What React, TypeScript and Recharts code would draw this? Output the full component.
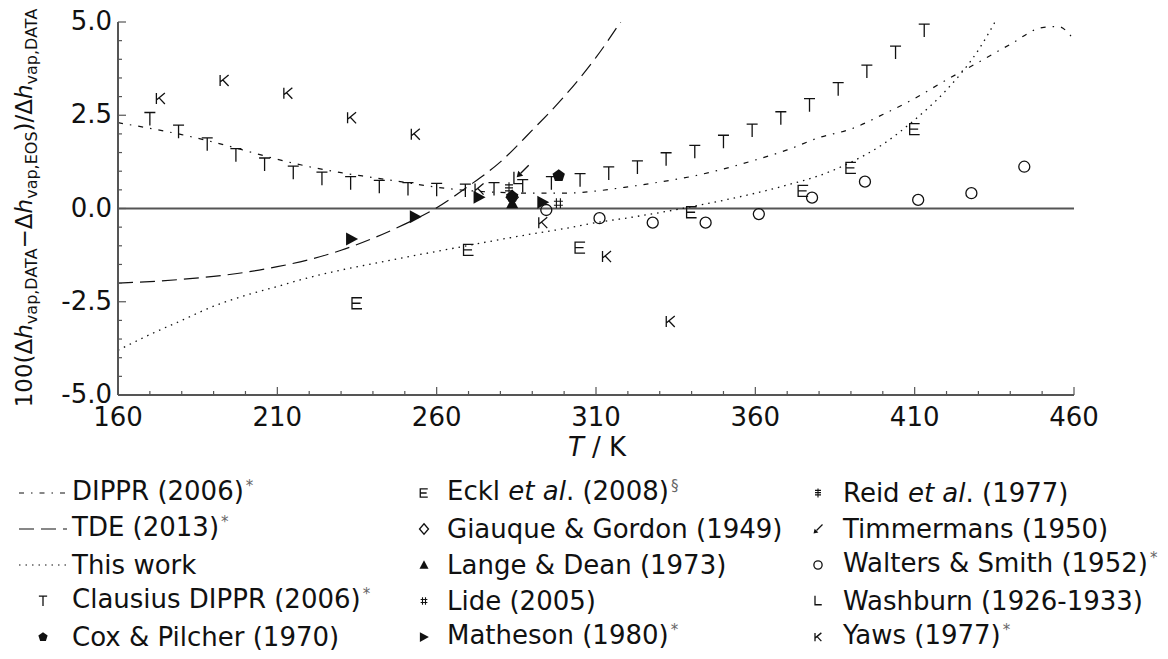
import React from 'react';
import { ComposedChart, Line, Scatter, XAxis, YAxis, ReferenceLine } from 'recharts';

const FONT = "'DejaVu Sans', 'Noto Sans', sans-serif";
const INK = '#111';
const FRAME = '#555';

// axis ticks (minor every 10 K / 0.5 %)
const xTicks = [160, 170, 180, 190, 200, 210, 220, 230, 240, 250, 260, 270, 280, 290, 300, 310, 320, 330, 340, 350, 360, 370, 380, 390, 400, 410, 420, 430, 440, 450, 460];
const xMajor = [160, 210, 260, 310, 360, 410, 460];
const yTicks = [-5, -4.5, -4, -3.5, -3, -2.5, -2, -1.5, -1, -0.5, 0, 0.5, 1, 1.5, 2, 2.5, 3, 3.5, 4, 4.5, 5];
const yMajor = [-5, -2.5, 0, 2.5, 5];

// correlations
const dipprT = [160, 170, 180, 190, 200, 210, 220, 230, 240, 250, 260, 270, 280, 290, 300, 310, 320, 330, 340, 350, 360, 370, 380, 390, 400, 410, 420, 430, 440, 450, 455, 460];
const dipprDev = [2.3, 2.15, 1.98, 1.78, 1.55, 1.32, 1.12, 0.96, 0.83, 0.7, 0.57, 0.48, 0.43, 0.41, 0.41, 0.47, 0.58, 0.71, 0.86, 1.06, 1.3, 1.57, 1.9, 2.13, 2.52, 2.95, 3.45, 3.92, 4.4, 4.85, 4.88, 4.52];

const tdeT = [160, 170, 180, 190, 200, 210, 220, 230, 240, 250, 260, 270, 280, 290, 300, 310, 320];
const tdeDev = [-2.0, -1.96, -1.9, -1.82, -1.71, -1.56, -1.37, -1.12, -0.8, -0.42, 0.02, 0.6, 1.25, 2.1, 3.0, 4.05, 5.3];

const thisWorkT = [160, 170, 180, 190, 200, 210, 220, 230, 240, 250, 260, 270, 280, 290, 300, 310, 320, 330, 340, 350, 360, 370, 380, 390, 400, 410, 420, 430, 435, 440];
const thisWorkDev = [-3.8, -3.38, -3.0, -2.62, -2.33, -2.09, -1.85, -1.65, -1.48, -1.31, -1.15, -0.99, -0.83, -0.68, -0.54, -0.38, -0.25, -0.11, 0.05, 0.22, 0.41, 0.63, 0.88, 1.24, 1.72, 2.38, 3.18, 4.25, 4.97, 5.8];

// experimental / derived points
const clausiusT = [170, 179, 188, 197, 206, 215, 224, 233, 242, 251, 260, 269, 278, 287, 296, 305, 314, 323, 332, 341, 350, 359, 368, 377, 386, 395, 404, 413];
const clausiusDev = [2.4, 2.06, 1.72, 1.43, 1.18, 0.96, 0.8, 0.68, 0.58, 0.52, 0.5, 0.48, 0.52, 0.6, 0.68, 0.76, 0.94, 1.1, 1.32, 1.52, 1.79, 2.09, 2.42, 2.77, 3.2, 3.67, 4.18, 4.77];

const yawsT = [173.3, 193.3, 213.3, 233.3, 253.3, 273.3, 293.3, 313.3, 333.3];
const yawsDev = [2.95, 3.43, 3.09, 2.43, 1.99, 0.52, -0.38, -1.29, -3.03];

const ecklT = [235, 270, 305, 340, 375, 390, 410];
const ecklDev = [-2.54, -1.11, -1.05, -0.1, 0.47, 1.09, 2.13];

const waltersT = [294.4, 311.1, 327.8, 344.4, 361.1, 377.8, 394.4, 411.1, 427.8, 444.4];
const waltersDev = [-0.04, -0.26, -0.38, -0.38, -0.15, 0.29, 0.72, 0.23, 0.41, 1.12];

const mathesonT = [233.3, 253.3, 273.3, 293.3];
const mathesonDev = [-0.82, -0.22, 0.3, 0.17];

const coxT = [283.7, 298.3];
const coxDev = [0.32, 0.88];
const giauqueT = [283.7];
const giauqueDev = [0.3];
const langeT = [283.7];
const langeDev = [0.14];
const lideT = [298.2];
const lideDev = [0.14];
const reidT = [282.7];
const reidDev = [0.54];
const timmermansT = [287];
const timmermansDev = [1.0];
const washburnT = [285.5];
const washburnDev = [0.8];

const pts = (ts: number[], vs: number[]) => ts.map((t, i) => ({ t, v: vs[i] }));

// marker glyphs
function Marker({ kind, cx, cy, s = 1 }: { kind: string; cx: number; cy: number; s?: number }) {
  const k = (n: number) => n * s;
  const st = { stroke: INK, strokeWidth: 1.3, fill: 'none' };
  switch (kind) {
    case 'T':
      return <path d={`M${cx - k(5.5)},${cy - k(6.5)}H${cx + k(5.5)}M${cx},${cy - k(6.5)}V${cy + k(6.5)}`} {...st} />;
    case 'K':
      return <path d={`M${cx - k(4)},${cy - k(5.5)}V${cy + k(5.5)}M${cx + k(4.5)},${cy - k(5.5)}L${cx - k(4)},${cy + k(1.5)}M${cx - k(1.5)},${cy - k(0.8)}L${cx + k(4.5)},${cy + k(5.5)}`} {...st} />;
    case 'E':
      return <path d={`M${cx + k(5)},${cy - k(5.5)}H${cx - k(5)}V${cy + k(5.5)}H${cx + k(5)}M${cx - k(5)},${cy}H${cx + k(3.5)}`} {...st} />;
    case 'L':
      return <path d={`M${cx - k(4)},${cy - k(7)}V${cy + k(5)}H${cx + k(5)}`} {...st} />;
    case 'hash':
      return <path d={`M${cx - k(2)},${cy - k(5)}V${cy + k(5)}M${cx + k(2)},${cy - k(5)}V${cy + k(5)}M${cx - k(4.5)},${cy - k(2)}H${cx + k(4.5)}M${cx - k(4.5)},${cy + k(2)}H${cx + k(4.5)}`} {...st} strokeWidth={1.1} />;
    case 'ddag':
      return <path d={`M${cx},${cy - k(6)}V${cy + k(6)}M${cx - k(4)},${cy - k(3.5)}H${cx + k(4)}M${cx - k(4)},${cy - k(0.5)}H${cx + k(4)}M${cx - k(4)},${cy + k(2.5)}H${cx + k(4)}`} {...st} strokeWidth={1.1} />;
    case 'arrow':
      return (
        <g>
          <path d={`M${cx + k(6)},${cy - k(6)}L${cx - k(2)},${cy + k(2)}`} {...st} />
          <polygon points={`${cx - k(6)},${cy + k(6)} ${cx - k(4.5)},${cy - k(0.5)} ${cx + k(0.5)},${cy + k(4.5)}`} fill={INK} />
        </g>
      );
    case 'O':
      return <circle cx={cx} cy={cy} r={k(5.5)} {...st} />;
    case 'tri-right':
      return <polygon points={`${cx - k(5.5)},${cy - k(6.5)} ${cx + k(6.5)},${cy} ${cx - k(5.5)},${cy + k(6.5)}`} fill={INK} />;
    case 'tri-up':
      return <polygon points={`${cx},${cy - k(6.5)} ${cx + k(6)},${cy + k(5)} ${cx - k(6)},${cy + k(5)}`} fill={INK} />;
    case 'diamond':
      return <polygon points={`${cx},${cy - k(7)} ${cx + k(6)},${cy} ${cx},${cy + k(7)} ${cx - k(6)},${cy}`} {...st} />;
    case 'pent': {
      const p = [0, 1, 2, 3, 4]
        .map((i) => {
          const a = ((-90 + 72 * i) * Math.PI) / 180;
          return `${cx + k(6.5) * Math.cos(a)},${cy + k(6.5) * Math.sin(a)}`;
        })
        .join(' ');
      return <polygon points={p} fill={INK} />;
    }
    default:
      return null;
  }
}

const shapeOf = (kind: string) => (p: any) => <Marker kind={kind} cx={p.cx} cy={p.cy} />;

function BottomTick(props: any) {
  const { x, y, payload } = props;
  const major = xMajor.includes(payload.value);
  return (
    <g>
      <line x1={x} x2={x} y1={y} y2={y - (major ? 8 : 4)} stroke={FRAME} strokeWidth={1.2} />
      {major && (
        <text x={x} y={y + 31} textAnchor='middle' fontSize={26} fontFamily={FONT} fill={INK}>
          {payload.value}
        </text>
      )}
    </g>
  );
}

function TopTick(props: any) {
  const { x, y, payload } = props;
  const major = xMajor.includes(payload.value);
  return <line x1={x} x2={x} y1={y} y2={y + (major ? 8 : 4)} stroke={FRAME} strokeWidth={1.2} />;
}

function LeftTick(props: any) {
  const { x, y, payload } = props;
  const major = yMajor.includes(payload.value);
  return (
    <g>
      <line x1={x} x2={x + (major ? 8 : 4)} y1={y} y2={y} stroke={FRAME} strokeWidth={1.2} />
      {major && (
        <text x={x - 6} y={y + 8} textAnchor='end' fontSize={26} fontFamily={FONT} fill={INK}>
          {payload.value.toFixed(1)}
        </text>
      )}
    </g>
  );
}

function RightTick(props: any) {
  const { x, y, payload } = props;
  const major = yMajor.includes(payload.value);
  return <line x1={x} x2={x - (major ? 8 : 4)} y1={y} y2={y} stroke={FRAME} strokeWidth={1.2} />;
}

const DASH_DOT = '5 7 1.5 7';
const DASHED = '15 7';
const DOTTED = '1.5 5';

type Entry = { label: React.ReactNode; line?: string; marker?: string };

function Sup({ children }: { children: React.ReactNode }) {
  return (
    <span style={{ fontSize: 15, color: '#666', position: 'relative', top: -9, marginLeft: 2 }}>{children}</span>
  );
}

const col1: Entry[] = [
  { label: <>DIPPR (2006)<Sup>*</Sup></>, line: DASH_DOT },
  { label: <>TDE (2013)<Sup>*</Sup></>, line: DASHED },
  { label: <>This work</>, line: DOTTED },
  { label: <>Clausius DIPPR (2006)<Sup>*</Sup></>, marker: 'T' },
  { label: <>Cox &amp; Pilcher (1970)</>, marker: 'pent' },
];
const col2: Entry[] = [
  { label: <>Eckl <i>et al</i>. (2008)<Sup>§</Sup></>, marker: 'E' },
  { label: <>Giauque &amp; Gordon (1949)</>, marker: 'diamond' },
  { label: <>Lange &amp; Dean (1973)</>, marker: 'tri-up' },
  { label: <>Lide (2005)</>, marker: 'hash' },
  { label: <>Matheson (1980)<Sup>*</Sup></>, marker: 'tri-right' },
];
const col3: Entry[] = [
  { label: <>Reid <i>et al</i>. (1977)</>, marker: 'ddag' },
  { label: <>Timmermans (1950)</>, marker: 'arrow' },
  { label: <>Walters &amp; Smith (1952)<Sup>*</Sup></>, marker: 'O' },
  { label: <>Washburn (1926-1933)</>, marker: 'L' },
  { label: <>Yaws (1977)<Sup>*</Sup></>, marker: 'K' },
];

function LegendColumn({ entries, left, textLeft }: { entries: Entry[]; left: number; textLeft: number }) {
  return (
    <>
      {entries.map((e, i) => {
        const cy = 493 + i * 36;
        return (
          <div key={i} style={{ position: 'absolute', left, top: cy - 18, height: 36, display: 'flex', alignItems: 'center' }}>
            <svg width={textLeft - left - 4} height={36} style={{ display: 'block' }}>
              {e.line && <line x1={0} x2={48} y1={18} y2={18} stroke={INK} strokeWidth={1.2} strokeDasharray={e.line} />}
              {e.marker && <Marker kind={e.marker} cx={24} cy={18} s={0.75} />}
            </svg>
            <span style={{ position: 'absolute', left: textLeft - left, whiteSpace: 'nowrap', fontSize: 26, fontFamily: FONT, color: INK, lineHeight: '36px' }}>
              {e.label}
            </span>
          </div>
        );
      })}
    </>
  );
}

export default function App() {
  return (
    <div style={{ position: 'absolute', left: 0, top: 0, width: 1168, height: 659, background: '#fff' }}>
      <ComposedChart width={1168} height={659} margin={{ top: 22, right: 94, bottom: 224, left: 0 }}>
        <XAxis
          dataKey='t'
          type='number'
          domain={[160, 460]}
          ticks={xTicks}
          interval={0}
          allowDataOverflow
          height={40}
          tickSize={0}
          tickMargin={0}
          tickLine={false}
          tick={<BottomTick />}
          axisLine={{ stroke: FRAME, strokeWidth: 2 }}
        />
        <XAxis
          xAxisId='top'
          orientation='top'
          dataKey='t'
          type='number'
          domain={[160, 460]}
          ticks={xTicks}
          interval={0}
          allowDataOverflow
          height={0}
          tickSize={0}
          tickMargin={0}
          tickLine={false}
          tick={<TopTick />}
          axisLine={{ stroke: FRAME, strokeWidth: 2 }}
        />
        <YAxis
          dataKey='v'
          type='number'
          domain={[-5, 5]}
          ticks={yTicks}
          interval={0}
          allowDataOverflow
          width={118}
          tickSize={0}
          tickMargin={0}
          tickLine={false}
          tick={<LeftTick />}
          axisLine={{ stroke: FRAME, strokeWidth: 2 }}
        />
        <YAxis
          yAxisId='right'
          orientation='right'
          dataKey='v'
          type='number'
          domain={[-5, 5]}
          ticks={yTicks}
          interval={0}
          allowDataOverflow
          width={0}
          tickSize={0}
          tickMargin={0}
          tickLine={false}
          tick={<RightTick />}
          axisLine={{ stroke: FRAME, strokeWidth: 2 }}
        />
        <ReferenceLine y={0} stroke={FRAME} strokeWidth={2} />

        <Line data={pts(dipprT, dipprDev)} dataKey='v' type='monotone' stroke={INK} strokeWidth={1.2} strokeDasharray={DASH_DOT} dot={false} activeDot={false} isAnimationActive={false} />
        <Line data={pts(tdeT, tdeDev)} dataKey='v' type='monotone' stroke={INK} strokeWidth={1.2} strokeDasharray={DASHED} dot={false} activeDot={false} isAnimationActive={false} />
        <Line data={pts(thisWorkT, thisWorkDev)} dataKey='v' type='monotone' stroke={INK} strokeWidth={1.3} strokeDasharray={DOTTED} dot={false} activeDot={false} isAnimationActive={false} />

        <Scatter data={pts(clausiusT, clausiusDev)} shape={shapeOf('T')} isAnimationActive={false} />
        <Scatter data={pts(yawsT, yawsDev)} shape={shapeOf('K')} isAnimationActive={false} />
        <Scatter data={pts(ecklT, ecklDev)} shape={shapeOf('E')} isAnimationActive={false} />
        <Scatter data={pts(waltersT, waltersDev)} shape={shapeOf('O')} isAnimationActive={false} />
        <Scatter data={pts(mathesonT, mathesonDev)} shape={shapeOf('tri-right')} isAnimationActive={false} />
        <Scatter data={pts(langeT, langeDev)} shape={shapeOf('tri-up')} isAnimationActive={false} />
        <Scatter data={pts(giauqueT, giauqueDev)} shape={shapeOf('diamond')} isAnimationActive={false} />
        <Scatter data={pts(coxT, coxDev)} shape={shapeOf('pent')} isAnimationActive={false} />
        <Scatter data={pts(lideT, lideDev)} shape={shapeOf('hash')} isAnimationActive={false} />
        <Scatter data={pts(reidT, reidDev)} shape={shapeOf('ddag')} isAnimationActive={false} />
        <Scatter data={pts(timmermansT, timmermansDev)} shape={shapeOf('arrow')} isAnimationActive={false} />
        <Scatter data={pts(washburnT, washburnDev)} shape={shapeOf('L')} isAnimationActive={false} />
      </ComposedChart>

      <svg width={1168} height={659} style={{ position: 'absolute', left: 0, top: 0, pointerEvents: 'none' }}>
        <text transform='translate(32,208) rotate(-90)' textAnchor='middle' fontSize={23} fontFamily={FONT} fill={INK}>
          100(Δ<tspan fontStyle='italic'>h</tspan>
          <tspan fontSize={16} dy={5}>vap,DATA</tspan>
          <tspan dy={-5}>−Δ</tspan>
          <tspan fontStyle='italic'>h</tspan>
          <tspan fontSize={16} dy={5}>vap,EOS</tspan>
          <tspan dy={-5}>)/Δ</tspan>
          <tspan fontStyle='italic'>h</tspan>
          <tspan fontSize={16} dy={5}>vap,DATA</tspan>
        </text>
        <text x={597} y={456} textAnchor='middle' fontSize={26} fontFamily={FONT} fill={INK}>
          <tspan fontStyle='italic'>T</tspan> / K
        </text>
      </svg>

      <LegendColumn entries={col1} left={19} textLeft={72} />
      <LegendColumn entries={col2} left={400} textLeft={447} />
      <LegendColumn entries={col3} left={794} textLeft={843} />
    </div>
  );
}
